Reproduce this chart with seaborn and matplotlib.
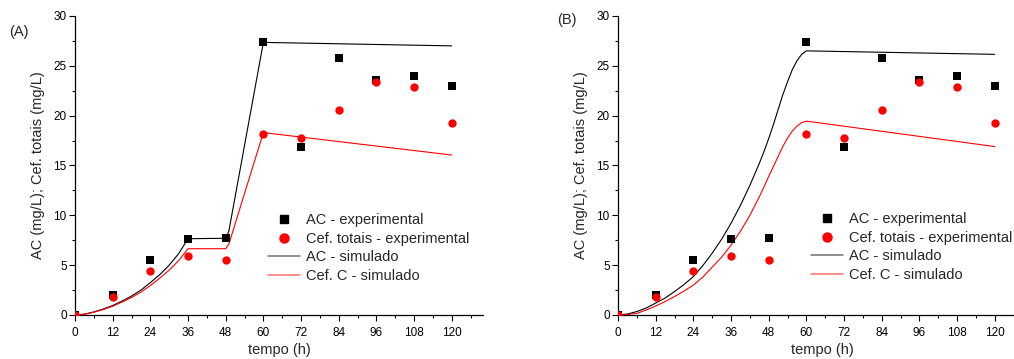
import matplotlib
matplotlib.use("Agg")
import matplotlib.pyplot as plt
from matplotlib.lines import Line2D
from matplotlib.ticker import MultipleLocator
import seaborn as sns

# dados experimentais (iguais nos dois paineis)
tempo_exp = [0, 12, 24, 36, 48, 60, 72, 84, 96, 108, 120]
ac_exp = [0, 2.0, 5.5, 7.6, 7.7, 27.4, 16.9, 25.8, 23.6, 24.0, 23.0]
cef_exp = [0, 1.8, 4.4, 5.95, 5.5, 18.2, 17.8, 20.6, 23.4, 22.9, 19.3]

# simulacao (A)
tempo_sim_a = [0, 3, 6, 9, 12, 15, 18, 21, 24, 27, 30, 33, 36, 48, 49, 60, 120]
ac_sim_a = [0, 0.08, 0.3, 0.6, 0.95, 1.4, 1.9, 2.5, 3.25, 4.05, 5.0, 6.15, 7.65,
            7.7, 8.4, 27.35, 27.0]
cef_sim_a = [0, 0.07, 0.28, 0.55, 0.88, 1.3, 1.75, 2.3, 2.95, 3.7, 4.5, 5.45, 6.65,
             6.65, 7.1, 18.3, 16.05]

# simulacao (B)
tempo_sim_b = [0, 3, 6, 9, 12, 15, 18, 21, 24, 27, 30, 33, 36, 39, 42, 45, 46.5, 48,
               49.5, 51, 52.5, 54, 55.5, 57, 58.5, 60, 120]
ac_sim_b = [0, 0.1, 0.35, 0.7, 1.2, 1.7, 2.35, 3.05, 3.85, 4.95, 6.2, 7.6, 9.2,
            11.0, 13.0, 15.2, 16.4, 17.7, 19.1, 20.6, 22.1, 23.4, 24.6, 25.5, 26.15, 26.5, 26.15]
cef_sim_b = [0, 0.05, 0.17, 0.5, 0.9, 1.35, 1.85, 2.4, 3.0, 3.8, 4.8, 5.8, 7.0,
             8.4, 10.0, 11.85, 12.85, 13.9, 14.9, 15.9, 16.9, 17.75, 18.45, 18.95, 19.3, 19.45, 16.9]

xticks = [0, 12, 24, 36, 48, 60, 72, 84, 96, 108, 120]
rotulos = ['AC - experimental', 'Cef. totais - experimental', 'AC - simulado', 'Cef. C - simulado']

sns.set_theme(style="ticks")
plt.rcParams['font.family'] = ['Liberation Sans', 'DejaVu Sans']


def painel(fig, pos, t_sim, ac_sim, cef_sim, letra, pos_letra, pos_leg):
    ax = fig.add_axes(pos)
    sns.lineplot(x=t_sim, y=ac_sim, color='black', linewidth=0.8, estimator=None, sort=False, ax=ax)
    sns.lineplot(x=t_sim, y=cef_sim, color='red', linewidth=0.8, estimator=None, sort=False, ax=ax)
    sns.scatterplot(x=tempo_exp, y=ac_exp, marker='s', s=26, color='black', linewidth=0, ax=ax, zorder=3)
    sns.scatterplot(x=tempo_exp, y=cef_exp, marker='o', s=36, color='red', linewidth=0, ax=ax, zorder=4)

    ax.set_xlim(0, 130)
    ax.set_ylim(0, 30)
    ax.set_xticks(xticks)
    ax.set_yticks([0, 5, 10, 15, 20, 25, 30])
    ax.xaxis.set_minor_locator(MultipleLocator(6))
    ax.yaxis.set_minor_locator(MultipleLocator(2.5))
    ax.tick_params(which='major', length=4, width=0.8, labelsize=8.5, colors='black')
    ax.tick_params(axis='x', which='major', pad=4.5)
    ax.tick_params(axis='y', which='major', pad=2)
    ax.tick_params(which='minor', length=2.4, width=0.8, colors='black')
    sns.despine(ax=ax)
    for s in ['left', 'bottom']:
        ax.spines[s].set_color('black')
        ax.spines[s].set_linewidth(0.9)
    ax.set_xlabel('tempo (h)', fontsize=10.5, labelpad=3)
    ax.set_ylabel('AC (mg/L); Cef. totais (mg/L)', fontsize=10.5, labelpad=6)

    handles = [
        Line2D([], [], linestyle='none', marker='s', markersize=5.5, color='black'),
        Line2D([], [], linestyle='none', marker='o', markersize=6.5, color='red'),
        Line2D([], [], color='#707070', linewidth=1.1),
        Line2D([], [], color='#ff7070', linewidth=1.1),
    ]
    ax.legend(handles, rotulos, loc='upper left', bbox_to_anchor=pos_leg,
              bbox_transform=fig.transFigure, frameon=False, fontsize=10.5,
              borderpad=0, borderaxespad=0, handlelength=2.2, handletextpad=0.4,
              labelspacing=0.32)
    fig.text(pos_letra[0], pos_letra[1], letra, fontsize=10.5, va='center', ha='left')
    return ax


fig = plt.figure(figsize=(10.14, 3.59), dpi=100)
painel(fig, [0.074, 0.1226, 0.4024, 0.8329], tempo_sim_a, ac_sim_a, cef_sim_a,
       '(A)', (0.009, 1 - 32 / 359), (268 / 1014, 1 - 213 / 359))
painel(fig, [0.6095, 0.1226, 0.4024, 0.8329], tempo_sim_b, ac_sim_b, cef_sim_b,
       '(B)', (557 / 1014, 1 - 20 / 359), (811 / 1014, 1 - 212 / 359))

fig.savefig('out.png', dpi=100)
